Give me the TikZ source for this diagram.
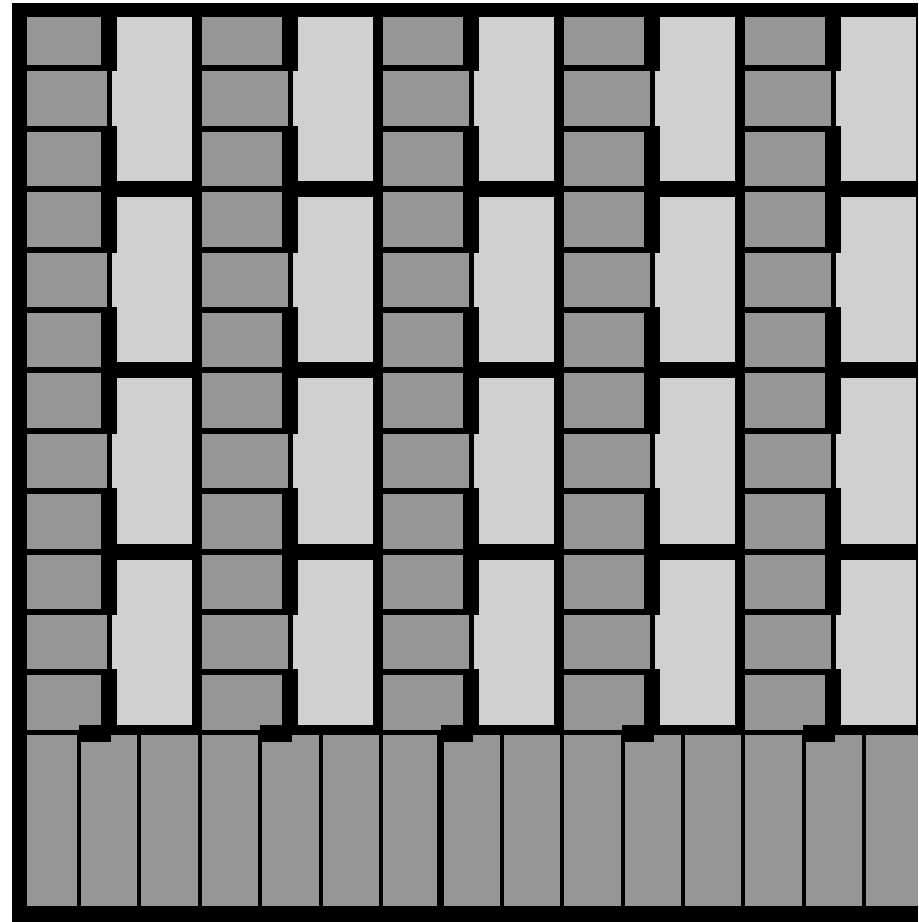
\documentclass[tikz,border=0pt]{standalone}
\usepackage{tikz}
\usepackage{xcolor}
\definecolor{brickgray}{RGB}{150,150,150}
\definecolor{panelgray}{RGB}{208,208,208}

\begin{document}
\begin{tikzpicture}[x=0.01cm, y=-0.01cm, brick/.style={fill=brickgray}, panel/.style={fill=panelgray}, joint/.style={fill=black}]
\useasboundingbox (0,0) rectangle (918,922);
\fill[joint] (12,3) rectangle (918,922);
\foreach \k in {0,...,4} {
  \pgfmathsetmacro{\panelx}{117+181*\k}
  \pgfmathsetmacro{\brickx}{\k==0 ? 27 : \panelx-96}
  \foreach \i in {0,...,11} {
    \pgfmathsetmacro{\rowtop}{\i==0 ? 17 : 11+60.4*\i}
    \pgfmathsetmacro{\rowbot}{5+60.4*(\i+1)}
    \pgfmathsetmacro{\brickend}{mod(\i,3)==1 ? \panelx-10 : \panelx-16}
    \fill[brick] (\brickx,\rowtop) rectangle (\brickend,\rowbot);
  }
  \foreach \m in {0,...,3} {
    \pgfmathsetmacro{\ptop}{\m==0 ? 17 : 16+181.2*\m}
    \pgfmathsetmacro{\pbot}{181.2*(\m+1)}
    \pgfmathsetmacro{\ntop}{11+60.4*(3*\m+1)}
    \pgfmathsetmacro{\nbot}{5+60.4*(3*\m+2)}
    \fill[panel] (\panelx,\ptop) rectangle ({min(\panelx+75,916)},\pbot);
    \fill[panel] (\panelx-5,\ntop) rectangle (\panelx,\nbot);
  }
}
% long bricks along the bottom
\foreach \j in {0,...,14} {
  \pgfmathsetmacro{\bl}{\j==0 ? 27 : (\j==7 ? 443.5 : 20.5+60.4*\j)}
  \pgfmathsetmacro{\br}{\j==6 ? 437 : min(16.5+60.4*(\j+1),918)}
  \fill[brick] (\bl,735) rectangle (\br,906);
}
\foreach \k in {0,...,4}
  \fill[joint] ({79+181*\k},725) rectangle ({111+181*\k},742);
\end{tikzpicture}
\end{document}
